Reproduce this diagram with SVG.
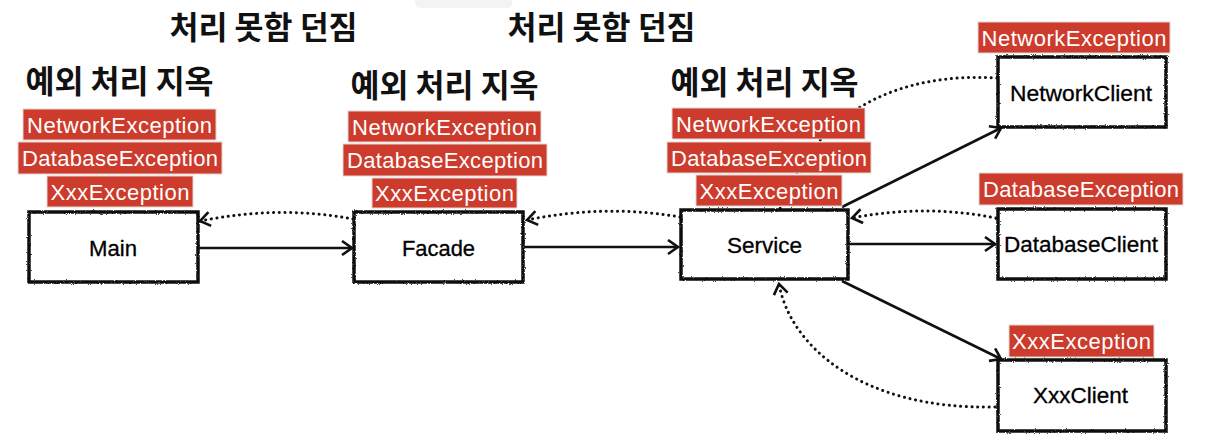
<svg xmlns="http://www.w3.org/2000/svg" width="1205" height="445" viewBox="0 0 1205 445">
<style>
.title{font-family:"Noto Sans CJK KR","Noto Sans",sans-serif;font-weight:bold;font-size:31.5px;fill:#111;text-anchor:middle}
.box{fill:#fff;stroke:#111;stroke-width:3.5}
.nlabel{font-family:"Liberation Sans",Arial,sans-serif;font-size:22px;fill:#000;text-anchor:middle;stroke:#000;stroke-width:0.3}
.tag{fill:#cc3b2b;stroke:#e2d6d4;stroke-width:1}
.tagt{font-family:"Liberation Sans",Arial,sans-serif;font-size:22px;fill:#fff;text-anchor:middle}
.solid{fill:none;stroke:#111;stroke-width:2.6;marker-end:url(#arr)}
.dot{fill:none;stroke:#111;stroke-width:3;stroke-dasharray:0.1 5.6;stroke-linecap:round}
.dota{marker-end:url(#arr)}
</style>
<defs>
<marker id="arr" markerUnits="userSpaceOnUse" markerWidth="14" markerHeight="18" refX="11" refY="8" orient="auto">
<path d="M1,1 L11,8 L1,15" fill="none" stroke="#111" stroke-width="2.6" stroke-linejoin="miter"/>
</marker>
<filter id="rough" x="-5%" y="-10%" width="110%" height="120%">
<feTurbulence type="fractalNoise" baseFrequency="0.9" numOctaves="2" seed="3"/>
<feDisplacementMap in="SourceGraphic" scale="2.5" xChannelSelector="R" yChannelSelector="G"/>
</filter>
</defs>
<rect width="1205" height="445" fill="#fff"/>
<rect x="415" y="-6" width="97" height="14" rx="5" fill="#f2f3f5"/>
<g id="titles">
<text class="title" x="263.5" y="39">처리 못함 던짐</text>
<text class="title" x="601.5" y="39">처리 못함 던짐</text>
<text class="title" x="119.5" y="93">예외 처리 지옥</text>
<text class="title" x="444.5" y="97">예외 처리 지옥</text>
<text class="title" x="764.5" y="94">예외 처리 지옥</text>
</g>
<g id="connectors">
<path class="solid" d="M198,248 L352,248"/>
<path class="solid" d="M524,247 L678,247"/>
<path class="solid" d="M849,244 L995,244"/>
<path class="solid" d="M842,207 L1001,128"/>
<path class="solid" d="M842,281 L1001,359"/>
<path class="dot dota" d="M353,219 Q280,205 200,221"/>
<path class="dot dota" d="M680,217 Q605,204 527,220"/>
<path class="dot dota" d="M996,218 Q925,204 852,218"/>
<path class="dot" d="M997,78 C900,72 815,110 780,209"/>
<path class="dot dota" d="M995,407 C860,410 790,345 779,284"/>
</g>
<g id="main">
<rect class="box" filter="url(#rough)" x="29" y="212" width="169" height="70"/>
<text class="nlabel" x="113" y="256" textLength="48" lengthAdjust="spacingAndGlyphs">Main</text>
<rect class="tag" x="23" y="109" width="193" height="31"/>
<text class="tagt" x="119.5" y="132.5" textLength="185">NetworkException</text>
<rect class="tag" x="18" y="142" width="204" height="32"/>
<text class="tagt" x="120" y="166" textLength="196">DatabaseException</text>
<rect class="tag" x="47" y="176" width="146" height="31"/>
<text class="tagt" x="120" y="199.5" textLength="139">XxxException</text>
</g>
<g id="facade">
<rect class="box" filter="url(#rough)" x="354" y="212" width="169" height="70"/>
<text class="nlabel" x="438.5" y="256" textLength="73" lengthAdjust="spacingAndGlyphs">Facade</text>
<rect class="tag" x="348" y="111" width="193" height="31"/>
<text class="tagt" x="444.5" y="134.5" textLength="185">NetworkException</text>
<rect class="tag" x="343" y="144" width="204" height="32"/>
<text class="tagt" x="445" y="168" textLength="196">DatabaseException</text>
<rect class="tag" x="372" y="178" width="145" height="30"/>
<text class="tagt" x="444.5" y="201" textLength="139">XxxException</text>
</g>
<g id="service">
<rect class="box" filter="url(#rough)" x="681" y="210" width="167" height="69"/>
<text class="nlabel" x="764.5" y="253" textLength="75" lengthAdjust="spacingAndGlyphs">Service</text>
<rect class="tag" x="672" y="108" width="193" height="31"/>
<text class="tagt" x="768.5" y="131.5" textLength="185">NetworkException</text>
<rect class="tag" x="667" y="142" width="204" height="31"/>
<text class="tagt" x="769" y="165.5" textLength="196">DatabaseException</text>
<rect class="tag" x="696" y="175" width="146" height="31"/>
<text class="tagt" x="769" y="198.5" textLength="139">XxxException</text>
</g>
<g id="networkClient">
<rect class="box" filter="url(#rough)" x="998" y="57" width="168" height="70"/>
<text class="nlabel" x="1081" y="101" textLength="142" lengthAdjust="spacingAndGlyphs">NetworkClient</text>
<rect class="tag" x="978" y="22" width="192" height="31"/>
<text class="tagt" x="1074" y="45.5" textLength="185">NetworkException</text>
</g>
<g id="databaseClient">
<rect class="box" filter="url(#rough)" x="998" y="209" width="168" height="70"/>
<text class="nlabel" x="1081" y="252" textLength="154" lengthAdjust="spacingAndGlyphs">DatabaseClient</text>
<rect class="tag" x="979" y="173" width="204" height="32"/>
<text class="tagt" x="1081" y="197" textLength="196">DatabaseException</text>
</g>
<g id="xxxClient">
<rect class="box" filter="url(#rough)" x="998" y="360" width="168" height="71"/>
<text class="nlabel" x="1080.5" y="403" textLength="95" lengthAdjust="spacingAndGlyphs">XxxClient</text>
<rect class="tag" x="1009" y="325" width="145" height="32"/>
<text class="tagt" x="1081.5" y="349" textLength="139">XxxException</text>
</g>
</svg>
